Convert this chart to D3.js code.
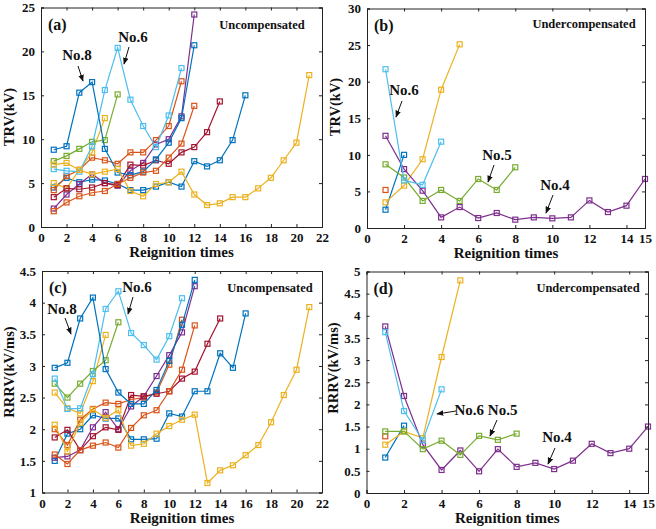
<!DOCTYPE html>
<html>
<head>
<meta charset="utf-8">
<script src="https://cdn.jsdelivr.net/npm/d3@7"></script>
<style>
  body { margin: 0; background: #fff; }
  svg { display: block; }
  text { font-family: "Liberation Serif", "Times New Roman", serif; font-weight: bold; }
</style>
</head>
<body>
<div id="vis"></div>
<script>
// MATLAB default colour order
const palette = ["#0072BD", "#D95319", "#EDB120", "#7E2F8E", "#77AC30", "#4DBEEE", "#A2142F"];

// (a) TRV, uncompensated, kV  (one array per test, reignition 1..n)
const trvUncomp = [
  [4.5, 5.6, 5.1, 5.4, 5.3, 4.9, 4.2, 4.2, 4.6, 5.1, 4.6, 7.5, 6.9, 7.6, 9.9, 15.0],
  [4.2, 5.8, 6.5, 7.9, 7.6, 7.2, 8.5, 8.5, 9.9, 11.5, 16.6],
  [5.0, 4.4, 6.5, 8.5, 12.4],
  [2.1, 3.7, 4.9, 6.0, 5.0, 4.7, 6.4, 7.3, 9.4, 10.0, 12.6, 24.2],
  [7.5, 8.1, 8.9, 9.7, 9.9, 15.1],
  [6.6, 6.4, 6.3, 9.2, 15.6, 20.4, 14.5, 11.5, 9.1, 12.7, 18.1],
  [3.4, 4.4, 4.3, 4.5, 5.0, 4.8, 7.1, 7.0, 7.6, 7.2, 8.5, 9.1, 10.8, 14.3],
  [8.8, 9.2, 15.3, 16.5, 8.9, 6.2, 5.9, 6.3, 7.7, 9.6, 12.4, 20.7],
  [1.8, 2.8, 3.5, 3.9, 4.1, 4.9, 5.6, 6.2, 6.4, 7.9, 9.5, 13.8],
  [7.1, 7.3, 6.5, 6.0, 6.3, 6.6, 4.1, 3.5, 4.9, 5.1, 6.3, 3.7, 2.5, 2.7, 3.4, 3.4, 4.4, 5.6, 7.6, 9.6, 17.3]
];

// (b) TRV, undercompensated, kV
const trvUnder = [
  [2.5, 10.0],
  [5.2],
  [3.5, 5.8, 9.4, 18.9, 25.1],
  [12.6, 8.05, 5.1, 1.45, 2.86, 1.36, 2.05, 1.14, 1.45, 1.32, 1.45, 3.77, 2.18, 3.05, 6.7],
  [8.7, 6.9, 3.7, 5.2, 3.7, 6.7, 5.2, 8.3],
  [21.7, 6.5, 5.9, 11.8]
];

// (c) RRRV, uncompensated, kV/ms
const rrrvUncomp = [
  [1.5, 1.93, 2.0, 2.22, 2.17, 2.17, 1.84, 1.84, 1.85, 2.25, 2.2, 2.6, 2.6, 3.2, 2.97, 3.83],
  [2.0, 1.75, 2.15, 2.32, 2.42, 2.4, 2.47, 2.5, 2.58, 3.02, 3.73],
  [2.58, 2.33, 2.25, 2.76, 3.49],
  [1.55, 1.57, 1.67, 2.03, 2.27, 2.0, 2.36, 2.52, 2.84, 3.17, 3.53, 4.26],
  [2.72, 2.5, 2.72, 2.92, 3.09, 3.69],
  [2.8, 2.32, 2.33, 2.87, 3.9, 4.18, 3.52, 3.33, 3.1, 3.47, 4.07],
  [1.87, 1.99, 1.67, 1.89, 2.03, 1.99, 2.54, 2.52, 2.56, 2.6, 2.8, 2.91, 3.35, 3.75],
  [2.97, 3.05, 3.75, 4.08, 2.95, 2.58, 2.4, 2.4, 2.62, 3.08, 3.65, 4.36],
  [1.6, 1.45, 1.67, 1.74, 1.79, 1.71, 2.02, 2.22, 2.3, 2.6, 2.94, 3.64],
  [2.07, 1.65, 2.1, 2.31, 2.18, 2.3, 1.74, 1.77, 1.93, 2.05, 2.15, 2.23, 1.15, 1.35, 1.43, 1.59, 1.75, 2.11, 2.54, 2.94, 3.93]
];

// (d) RRRV, undercompensated, kV/ms
const rrrvUnder = [
  [0.8, 1.52],
  [1.28],
  [1.09, 1.39, 1.24, 3.07, 4.8],
  [3.76, 2.19, 1.09, 0.52, 0.96, 0.49, 0.99, 0.59, 0.68, 0.54, 0.73, 1.11, 0.9, 1.0, 1.5],
  [1.39, 1.39, 0.99, 1.18, 0.86, 1.29, 1.2, 1.34],
  [3.63, 1.85, 1.19, 2.34]
];

const xTicksWide = [0, 2, 4, 6, 8, 10, 12, 14, 16, 18, 20, 22];
const xTicksNarrow = [0, 2, 4, 6, 8, 10, 12, 14, 15];
const trvTicksA = [0, 5, 10, 15, 20, 25];
const trvTicksB = [0, 5, 10, 15, 20, 25, 30];
const rrrvTicksC = [1, 1.5, 2, 2.5, 3, 3.5, 4, 4.5];
const rrrvTicksD = [0, 0.5, 1, 1.5, 2, 2.5, 3, 3.5, 4, 4.5, 5];

const W = 656, H = 529;
const svg = d3.select("#vis").append("svg").attr("width", W).attr("height", H);

svg.append("defs").append("marker")
  .attr("id", "arr").attr("viewBox", "0 0 10 10")
  .attr("refX", 9).attr("refY", 5)
  .attr("markerWidth", 7).attr("markerHeight", 7)
  .attr("orient", "auto")
  .append("path").attr("d", "M0,1 L10,5 L0,9 Z").attr("fill", "#111");

function panel(opt) {
  const x = d3.scaleLinear().domain(opt.xd).range([opt.box[0], opt.box[1]]);
  const y = d3.scaleLinear().domain(opt.yd).range([opt.box[3], opt.box[2]]);
  const g = svg.append("g");

  // series
  const line = d3.line().x((d, i) => x(i + 1)).y(d => y(d));
  opt.data.forEach((s, k) => {
    const c = palette[k % palette.length];
    g.append("path").datum(s).attr("d", line)
      .attr("fill", "none").attr("stroke", c).attr("stroke-width", 1.2);
    g.selectAll(null).data(s).join("rect")
      .attr("x", (d, i) => x(i + 1) - 2.5).attr("y", d => y(d) - 2.5)
      .attr("width", 5).attr("height", 5)
      .attr("fill", "none").attr("stroke", c).attr("stroke-width", 1.2);
  });

  // axes (ticks inward, box on)
  const fmt = d => String(d);
  const tl = 3;
  g.append("g").attr("transform", `translate(0,${opt.box[3]})`)
    .call(d3.axisBottom(x).tickValues(opt.xt).tickSize(-tl).tickPadding(6).tickFormat(fmt));
  g.append("g").attr("transform", `translate(0,${opt.box[2]})`)
    .call(d3.axisTop(x).tickValues(opt.xt).tickSize(-tl).tickFormat(""));
  g.append("g").attr("transform", `translate(${opt.box[0]},0)`)
    .call(d3.axisLeft(y).tickValues(opt.yt).tickSize(-tl).tickPadding(6).tickFormat(fmt));
  g.append("g").attr("transform", `translate(${opt.box[1]},0)`)
    .call(d3.axisRight(y).tickValues(opt.yt).tickSize(-tl).tickFormat(""));
  g.selectAll(".domain").attr("stroke", "#222").attr("stroke-width", 1);
  g.selectAll(".tick line").attr("stroke", "#222");
  g.selectAll(".tick text").attr("font-size", 13).attr("fill", "#111")
    .attr("font-family", '"Liberation Serif", "Times New Roman", serif').attr("font-weight", "bold");

  const cx = (opt.box[0] + opt.box[1]) / 2;
  g.append("text").attr("x", cx).attr("y", opt.box[3] + 30).attr("text-anchor", "middle")
    .attr("font-size", 15).attr("fill", "#111").text("Reignition times");
  g.append("text").attr("transform", `translate(${opt.ylx},${opt.yly}) rotate(-90)`)
    .attr("text-anchor", "middle").attr("font-size", 14.5).attr("fill", "#111").text(opt.ylab);
  g.append("text").attr("x", opt.box[0] + 7).attr("y", opt.box[2] + 22)
    .attr("font-size", 16).attr("fill", "#111").text(opt.tag);
  g.append("text").attr("x", opt.cond[0]).attr("y", opt.cond[1]).attr("text-anchor", "middle")
    .attr("font-size", 12.5).attr("fill", "#111").text(opt.condText);

  opt.notes.forEach(n => {
    if (n.t) g.append("text").attr("x", n.t[0]).attr("y", n.t[1]).attr("text-anchor", "middle")
      .attr("font-size", 15).attr("fill", "#111").text(n.s);
    if (n.a) g.append("line").attr("x1", n.a[0]).attr("y1", n.a[1]).attr("x2", n.a[2]).attr("y2", n.a[3])
      .attr("stroke", "#111").attr("stroke-width", 1).attr("marker-end", "url(#arr)");
  });
}

panel({
  box: [41, 322, 7.5, 227], xd: [0, 22], yd: [0, 25], xt: xTicksWide, yt: trvTicksA,
  data: trvUncomp, ylab: "TRV(kV)", ylx: 14, yly: 117, tag: "(a)",
  cond: [262, 29], condText: "Uncompensated",
  notes: [
    { s: "No.8", t: [77, 60], a: [78, 66, 83, 81] },
    { s: "No.6", t: [133, 42], a: [129, 47, 124, 64] }
  ]
});

panel({
  box: [367, 645, 8.5, 228], xd: [0, 15], yd: [0, 30], xt: xTicksNarrow, yt: trvTicksB,
  data: trvUnder, ylab: "TRV(kV)", ylx: 340, yly: 107, tag: "(b)",
  cond: [584, 28], condText: "Undercompensated",
  notes: [
    { s: "No.6", t: [404, 95], a: [402, 101, 396, 117] },
    { s: "No.5", t: [497, 160], a: [494, 165, 488, 182] },
    { s: "No.4", t: [555, 190], a: [553, 195, 546, 213] }
  ]
});

panel({
  box: [42, 322, 271, 492.5], xd: [0, 22], yd: [1, 4.5], xt: xTicksWide, yt: rrrvTicksC,
  data: rrrvUncomp, ylab: "RRRV(kV/ms)", ylx: 14, yly: 372, tag: "(c)",
  cond: [270, 292], condText: "Uncompensated",
  notes: [
    { s: "No.8", t: [62, 314], a: [65, 318, 71, 334] },
    { s: "No.6", t: [137, 292], a: [133, 297, 128, 314] }
  ]
});

panel({
  box: [366.5, 648, 271.5, 493], xd: [0, 15], yd: [0, 5], xt: xTicksNarrow, yt: rrrvTicksD,
  data: rrrvUnder, ylab: "RRRV(kV/ms)", ylx: 338, yly: 368, tag: "(d)",
  cond: [588, 292], condText: "Undercompensated",
  notes: [
    { s: "No.6 No.5", t: [486, 415] },
    { a: [456, 411, 437, 414] },
    { a: [497, 420, 490, 436] },
    { s: "No.4", t: [557, 442], a: [555, 448, 548, 464] }
  ]
});
</script>
</body>
</html>
